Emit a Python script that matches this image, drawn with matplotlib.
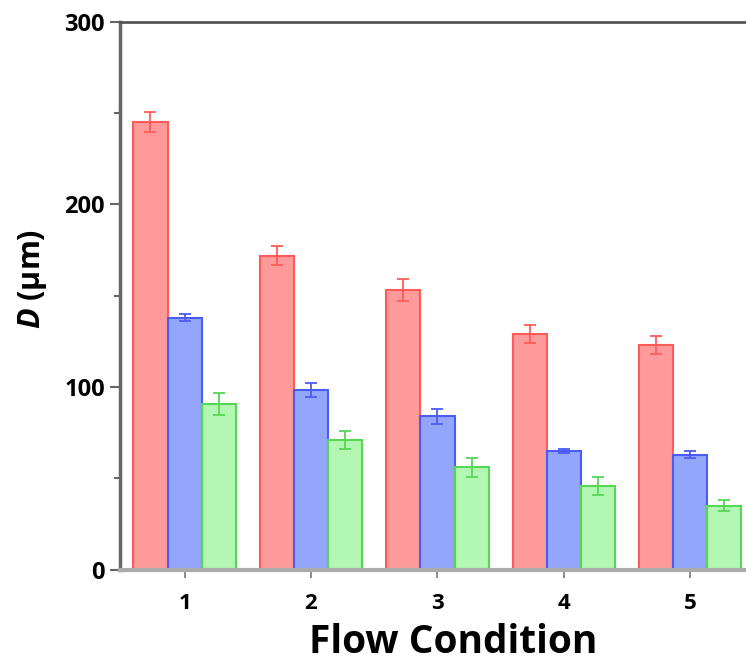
import numpy as np
import matplotlib.pyplot as plt
from matplotlib.ticker import MultipleLocator

# flow conditions and measured diameters (um)
conditions = ["1", "2", "3", "4", "5"]
red_vals = [245, 172, 153, 129, 123]
red_err = [5.5, 5, 6, 5, 5]
blue_vals = [138, 98.5, 84, 65, 63]
blue_err = [2, 4, 4, 1, 2]
green_vals = [91, 71, 56, 46, 35]
green_err = [6, 5, 5, 5, 3]

plt.rcParams['font.family'] = ['Open Sans', 'DejaVu Sans']
plt.rcParams['mathtext.fontset'] = 'custom'
plt.rcParams['mathtext.it'] = 'Open Sans:italic:bold'
plt.rcParams['mathtext.rm'] = 'Open Sans:bold'

fig = plt.figure(figsize=(7.46, 6.61), dpi=100)
ax = fig.add_axes([0.161, 0.138, 0.866, 0.829])

x = np.arange(1, len(conditions) + 1)
w = 0.27

series = [
    (red_vals, red_err, "#ff9a9a", "#ff5a5a", -w),
    (blue_vals, blue_err, "#93a6fb", "#4b5cf5", 0),
    (green_vals, green_err, "#b2f7b2", "#55d655", w),
]
for vals, err, fc, ec, off in series:
    ax.bar(x + off, vals, width=w, color=fc, edgecolor=ec, linewidth=1.5)
    ax.errorbar(x + off, vals, yerr=err, fmt="none", ecolor=ec,
                elinewidth=1.3, capsize=4, capthick=1.3)

ax.set_xlim(0.49, 5.6)
ax.set_ylim(0, 300)
ax.set_xticks(x)
ax.set_xticklabels(conditions)
ax.yaxis.set_major_locator(MultipleLocator(100))
ax.yaxis.set_minor_locator(MultipleLocator(50))

ax.spines['right'].set_visible(False)
ax.spines['left'].set_color("#666666")
ax.spines['left'].set_linewidth(2.5)
ax.spines['top'].set_color("#555555")
ax.spines['top'].set_linewidth(2)
ax.spines['bottom'].set_color("#aaaaaa")
ax.spines['bottom'].set_linewidth(3)

ax.tick_params(axis='y', which='major', length=7, width=1.5, color="#666666",
               labelsize=17, pad=4)
ax.tick_params(axis='y', which='minor', length=4, width=1.5, color="#666666")
ax.tick_params(axis='x', length=6, width=1.2, color="#777777",
               labelsize=16, pad=11)
for lab in ax.get_xticklabels() + ax.get_yticklabels():
    lab.set_fontweight('bold')

ax.set_xlabel("Flow Condition", fontsize=28, fontweight='bold')
ax.xaxis.set_label_coords(0.515, -0.097)
ax.set_ylabel("$D$ (μm)", fontsize=22, fontweight='bold')
ax.yaxis.set_label_coords(-0.11, 0.53)

fig.savefig("out.png", dpi=100)
